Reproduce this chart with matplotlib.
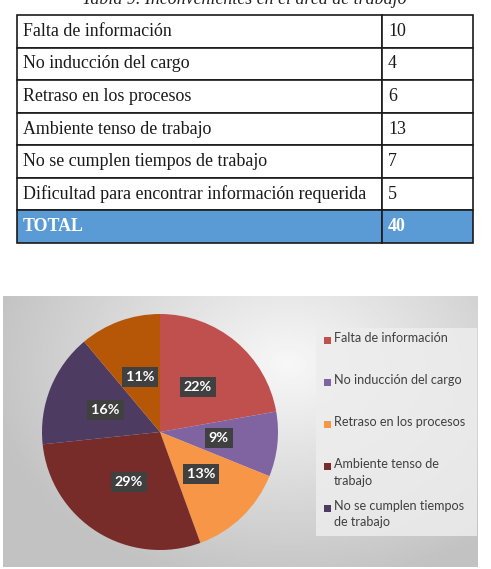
#!/usr/bin/env python3
import matplotlib
matplotlib.use("Agg")
import matplotlib.pyplot as plt
import numpy as np
from matplotlib.patches import Rectangle

W, H = 491, 569
DPI = 100

TITLE = "Tabla 9. Inconvenientes en el área de trabajo"
categories = [
    "Falta de información",
    "No inducción del cargo",
    "Retraso en los procesos",
    "Ambiente tenso de trabajo",
    "No se cumplen tiempos de trabajo",
    "Dificultad para encontrar información requerida",
]
counts = [10, 4, 6, 13, 7, 5]
total_label = "40"  # as printed in the source table
legend_labels = [
    "Falta de información",
    "No inducción del cargo",
    "Retraso en los procesos",
    "Ambiente tenso de\ntrabajo",
    "No se cumplen tiempos\nde trabajo",
]
colors = ["#C0504D", "#8064A2", "#F79646", "#772C2A", "#4D3B62", "#B65708"]


def px_box(x0, y0, x1, y1):
    return [x0 / W, 1 - y1 / H, (x1 - x0) / W, (y1 - y0) / H]


fig = plt.figure(figsize=(W / DPI, H / DPI), dpi=DPI)
fig.patch.set_facecolor("white")

# ---- table ----
tax = fig.add_axes(px_box(17, 15, 473, 243))
tax.axis("off")
rows = [[c, str(v)] for c, v in zip(categories, counts)] + [["TOTAL", total_label]]
tbl = tax.table(cellText=rows, colWidths=[365 / 456, 91 / 456], bbox=[0, 0, 1, 1], cellLoc="left")
tbl.auto_set_font_size(False)
for (r, c), cell in tbl.get_celld().items():
    cell.set_linewidth(1.2)
    cell.set_edgecolor("#1a1a1a")
    cell.PAD = 6 / (365 if c == 0 else 91)
    cell.get_text().set_fontfamily("Liberation Serif")
    cell.get_text().set_fontsize(12.9)
    cell.get_text().set_color("#1a1a1a")
    if r == len(rows) - 1:
        cell.set_facecolor("#5B9BD5")
        cell.get_text().set_color("white")
        cell.get_text().set_fontweight("bold")

# ---- chart background with soft radial gradient ----
bax = fig.add_axes(px_box(3, 296, 478, 567))
yy, xx = np.mgrid[0:1:200j, 0:1:350j]
d = np.sqrt(((xx - 0.6) * 1.3) ** 2 + ((yy - 0.25) * 1.0) ** 2)
grad = np.clip(0.97 - 0.25 * d, 0.76, 0.97)
bax.imshow(grad, cmap="gray", vmin=0, vmax=1, aspect="auto", extent=[0, 1, 1, 0])
bax.set_xlim(0, 1)
bax.set_ylim(1, 0)
bax.axis("off")

# ---- overlay for title and legend in pixel coordinates ----
oax = fig.add_axes([0, 0, 1, 1])
oax.set_xlim(0, W)
oax.set_ylim(H, 0)
oax.axis("off")
oax.add_patch(Rectangle((316, 328), 161, 208, facecolor="#ededed", edgecolor="none", alpha=0.85))
oax.text(244, 4, TITLE, ha="center", va="baseline", fontsize=12.9,
         family="Liberation Serif", fontstyle="italic", color="#222222", clip_on=False)
for i, lab in enumerate(legend_labels):
    yc = 340 + 42 * i
    oax.add_patch(Rectangle((324, yc - 3.5), 7, 7, facecolor=colors[i], edgecolor="none"))
    oax.text(334, yc - 8.5, lab, ha="left", va="top", fontsize=9.1, family="Lato",
             color="#404040", linespacing=1.5)

# ---- pie ----
pax = fig.add_axes(px_box(42, 314, 278, 550))
wedges, texts, autotexts = pax.pie(
    counts, colors=colors, startangle=90, counterclock=False, radius=1,
    autopct="%1.0f%%", pctdistance=0.5,
    wedgeprops=dict(edgecolor="none"),
    textprops=dict(color="white", fontsize=10.4, fontweight="bold", family="Lato"),
)
for t in autotexts:
    t.set_bbox(dict(boxstyle="square,pad=0.28", facecolor="#404040", edgecolor="none"))
pax.set_xlim(-1, 1)
pax.set_ylim(-1, 1)
pax.set_aspect("equal")

fig.savefig("out.png", dpi=DPI)
